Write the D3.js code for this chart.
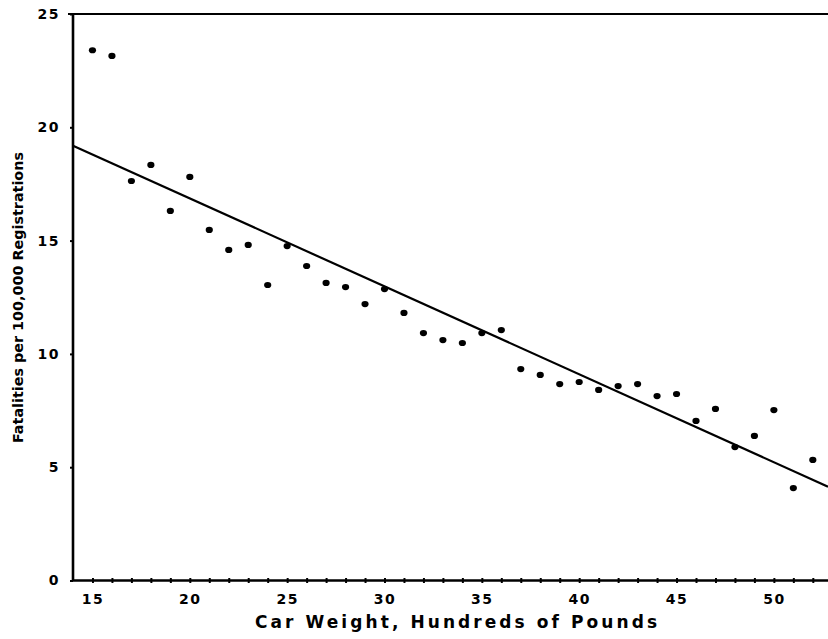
<!DOCTYPE html>
<html>
<head>
<meta charset="utf-8">
<script src="https://cdn.jsdelivr.net/npm/d3@7/dist/d3.min.js"></script>
<style>
  html, body { margin: 0; padding: 0; background: #fff; }
  svg { display: block; }
</style>
</head>
<body>
<svg id="chart" width="828" height="639"></svg>
<script>
// ---- data ----
const weights = [15,16,17,18,19,20,21,22,23,24,25,26,27,28,29,30,31,32,33,34,35,36,37,38,39,40,41,42,43,44,45,46,47,48,49,50,51,52];
const fatalities = [23.4,23.15,17.63,18.34,16.31,17.81,15.47,14.59,14.81,13.04,14.76,13.88,13.13,12.95,12.2,12.86,11.81,10.92,10.61,10.48,10.92,11.05,9.33,9.07,8.67,8.76,8.41,8.58,8.67,8.14,8.23,7.04,7.57,5.89,6.38,7.52,4.08,5.32];
const fitX = [14, 52.78];
const fitY = [19.19, 4.14];
const xTickLabels = [15,20,25,30,35,40,45,50];
const yTickLabels = [0,5,10,15,20,25];
const xTitle = "Car Weight, Hundreds of Pounds";
const yTitle = "Fatalities per 100,000 Registrations";

// ---- layout ----
const svg = d3.select("#chart");
const x = d3.scaleLinear().domain([14, 52.78]).range([73, 828]);
const y = d3.scaleLinear().domain([0, 25]).range([580.5, 14]);

const tickFont = "'DejaVu Sans', sans-serif";

// top border
svg.append("line")
  .attr("x1", x(14) - 5).attr("x2", 828)
  .attr("y1", y(25)).attr("y2", y(25))
  .attr("stroke", "#000").attr("stroke-width", 2.2);

// x axis
const xAxis = d3.axisBottom(x)
  .tickValues(d3.range(15, 53))
  .tickSize(0)
  .tickPadding(14)
  .tickFormat(d => xTickLabels.includes(d) ? d : "");
const gx = svg.append("g").attr("transform", `translate(0,${y(0)})`).call(xAxis);
gx.select(".domain").attr("stroke", "#000").attr("stroke-width", 2.6)
  .attr("d", `M${x(14)},0H828`);
gx.selectAll(".tick line").attr("y1", -2.5).attr("y2", 2.5).attr("stroke", "#000").attr("stroke-width", 2);
gx.selectAll(".tick text")
  .attr("font-family", tickFont).attr("font-weight", "bold")
  .attr("font-size", 14).attr("letter-spacing", 1.5).attr("fill", "#000");

// y axis
const yAxis = d3.axisLeft(y)
  .tickValues(yTickLabels)
  .tickSize(3)
  .tickPadding(10)
  .tickFormat(d3.format("d"));
const gy = svg.append("g").attr("transform", `translate(${x(14)},0)`).call(yAxis);
gy.select(".domain").attr("stroke", "#000").attr("stroke-width", 2.6)
  .attr("d", `M0,${y(25)}V${y(0)}`);
gy.selectAll(".tick line").attr("stroke", "#000").attr("stroke-width", 2);
gy.selectAll(".tick text")
  .attr("font-family", tickFont).attr("font-weight", "bold")
  .attr("font-size", 14).attr("letter-spacing", 1.5).attr("fill", "#000");

// regression line
const line = d3.line().x(d => x(d[0])).y(d => y(d[1]));
svg.append("path")
  .datum(fitX.map((v, i) => [v, fitY[i]]))
  .attr("d", line)
  .attr("fill", "none").attr("stroke", "#000").attr("stroke-width", 2.2);

// points
svg.append("g").selectAll("ellipse")
  .data(weights.map((w, i) => [w, fatalities[i]]))
  .join("ellipse")
  .attr("cx", d => x(d[0])).attr("cy", d => y(d[1]))
  .attr("rx", 3.6).attr("ry", 3.1)
  .attr("fill", "#000");

// x title
svg.append("text")
  .attr("x", 255).attr("y", 628)
  .attr("textLength", 402).attr("lengthAdjust", "spacing")
  .attr("font-family", tickFont).attr("font-weight", "bold")
  .attr("font-size", 17).attr("fill", "#000")
  .text(xTitle);

// y title
svg.append("text")
  .attr("transform", "translate(23,443) rotate(-90)")
  .attr("x", 0).attr("y", 0)
  .attr("textLength", 291).attr("lengthAdjust", "spacingAndGlyphs")
  .attr("font-family", "'DejaVu Sans Condensed', 'Liberation Sans Narrow', sans-serif")
  .attr("font-weight", "bold").attr("font-size", 14).attr("fill", "#000")
  .text(yTitle);
</script>
</body>
</html>
